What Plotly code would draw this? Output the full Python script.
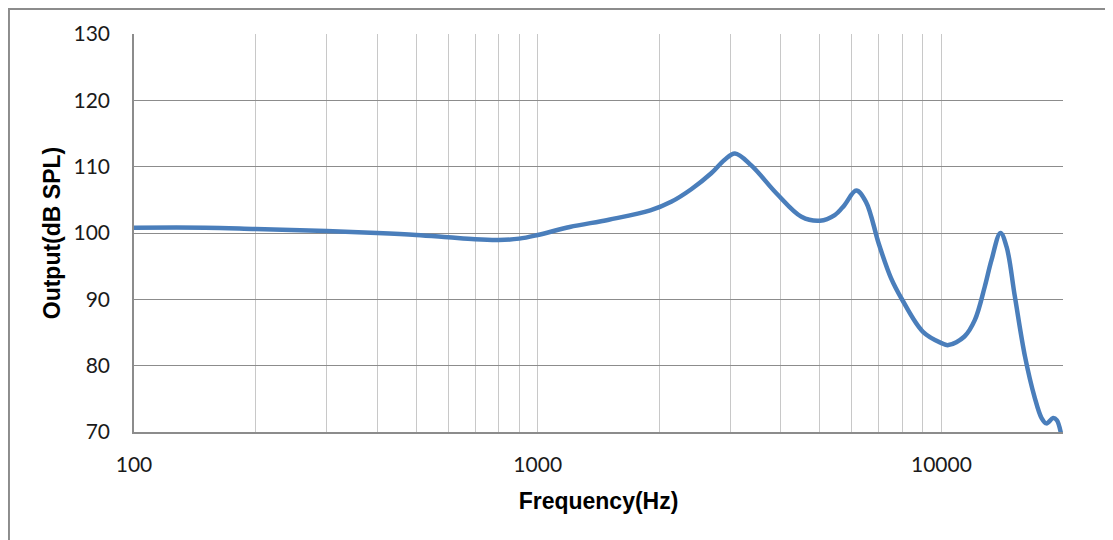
import plotly.graph_objects as go

freq_hz = [100, 150, 200, 300, 400, 500, 600, 700, 800, 900, 1000, 1200, 1500, 1900,
           2140, 2400, 2690, 2900, 3080, 3380, 3900, 4500, 5000, 5440, 5750,
           6150, 6500, 7000, 7500, 8000, 9000, 10000, 10400, 11400, 12100, 12800,
           13300, 14000, 14500, 15200, 16100, 17000, 17700, 18200, 18900, 19300, 19770]
output_db = [100.8, 100.8, 100.6, 100.3, 100.0, 99.7, 99.35, 99.05, 98.95, 99.15, 99.7, 100.9, 102.0, 103.4,
             104.7, 106.6, 109.0, 111.0, 112.0, 110.2, 106.0, 102.45, 101.85, 102.7, 104.2,
             106.4, 104.7, 98.3, 93.2, 89.9, 85.1, 83.4, 83.1, 84.4, 86.9, 91.9,
             95.9, 100.0, 97.9, 90.4, 81.4, 75.3, 72.1, 71.3, 72.1, 71.8, 69.8]

x_major_ticks = [100, 1000, 10000]
x_major_labels = ["100", "1000", "10000"]
x_minor_ticks = [200, 300, 400, 500, 600, 700, 800, 900,
                 2000, 3000, 4000, 5000, 6000, 7000, 8000, 9000, 20000]
y_ticks = [70, 80, 90, 100, 110, 120, 130]

fig = go.Figure()
fig.add_trace(go.Scatter(
    x=freq_hz, y=output_db, mode="lines",
    line=dict(color="#4A7EBB", width=4.5, shape="spline", smoothing=1.0),
    showlegend=False, hoverinfo="skip",
))

tick_font = dict(family="Lato, Open Sans, sans-serif", size=21, color="#1a1a1a")
title_font = dict(family="Liberation Sans, Arial, sans-serif", size=23, color="#000000")

fig.update_layout(
    width=1105, height=532,
    margin=dict(l=126, r=50, t=26, b=108),
    paper_bgcolor="white", plot_bgcolor="white",
    xaxis=dict(
        type="log", range=[2, 4.30103],
        tickmode="array", tickvals=x_major_ticks, ticktext=x_major_labels,
        tickfont=tick_font,
        ticks="outside", ticklen=13, tickcolor="rgba(0,0,0,0)",
        showgrid=True, gridcolor="#C8C8C8", gridwidth=1,
        minor=dict(tickmode="array", tickvals=x_minor_ticks, showgrid=True,
                   gridcolor="#C8C8C8", gridwidth=1, ticks=""),
        showline=True, linecolor="#8C8C8C", linewidth=1.5,
        zeroline=False,
        title=dict(text="<b>Frequency(Hz)</b>", font=title_font, standoff=18),
    ),
    yaxis=dict(
        range=[70, 130], tickmode="array", tickvals=y_ticks,
        tickfont=tick_font,
        ticks="outside", ticklen=18, tickcolor="rgba(0,0,0,0)",
        showgrid=True, gridcolor="#8C8C8C", gridwidth=1,
        showline=True, linecolor="#8C8C8C", linewidth=1.5,
        zeroline=False,
        title=dict(text="<b>Output(dB SPL)</b>", font=title_font, standoff=6),
    ),
    shapes=[dict(
        type="rect", xref="paper", yref="paper",
        x0=-0.1346, x1=1.2, y0=-0.5, y1=1.0628,
        line=dict(color="#8C8C8C", width=2), fillcolor="rgba(0,0,0,0)",
        layer="below",
    )],
)

fig.write_html("out.html")
